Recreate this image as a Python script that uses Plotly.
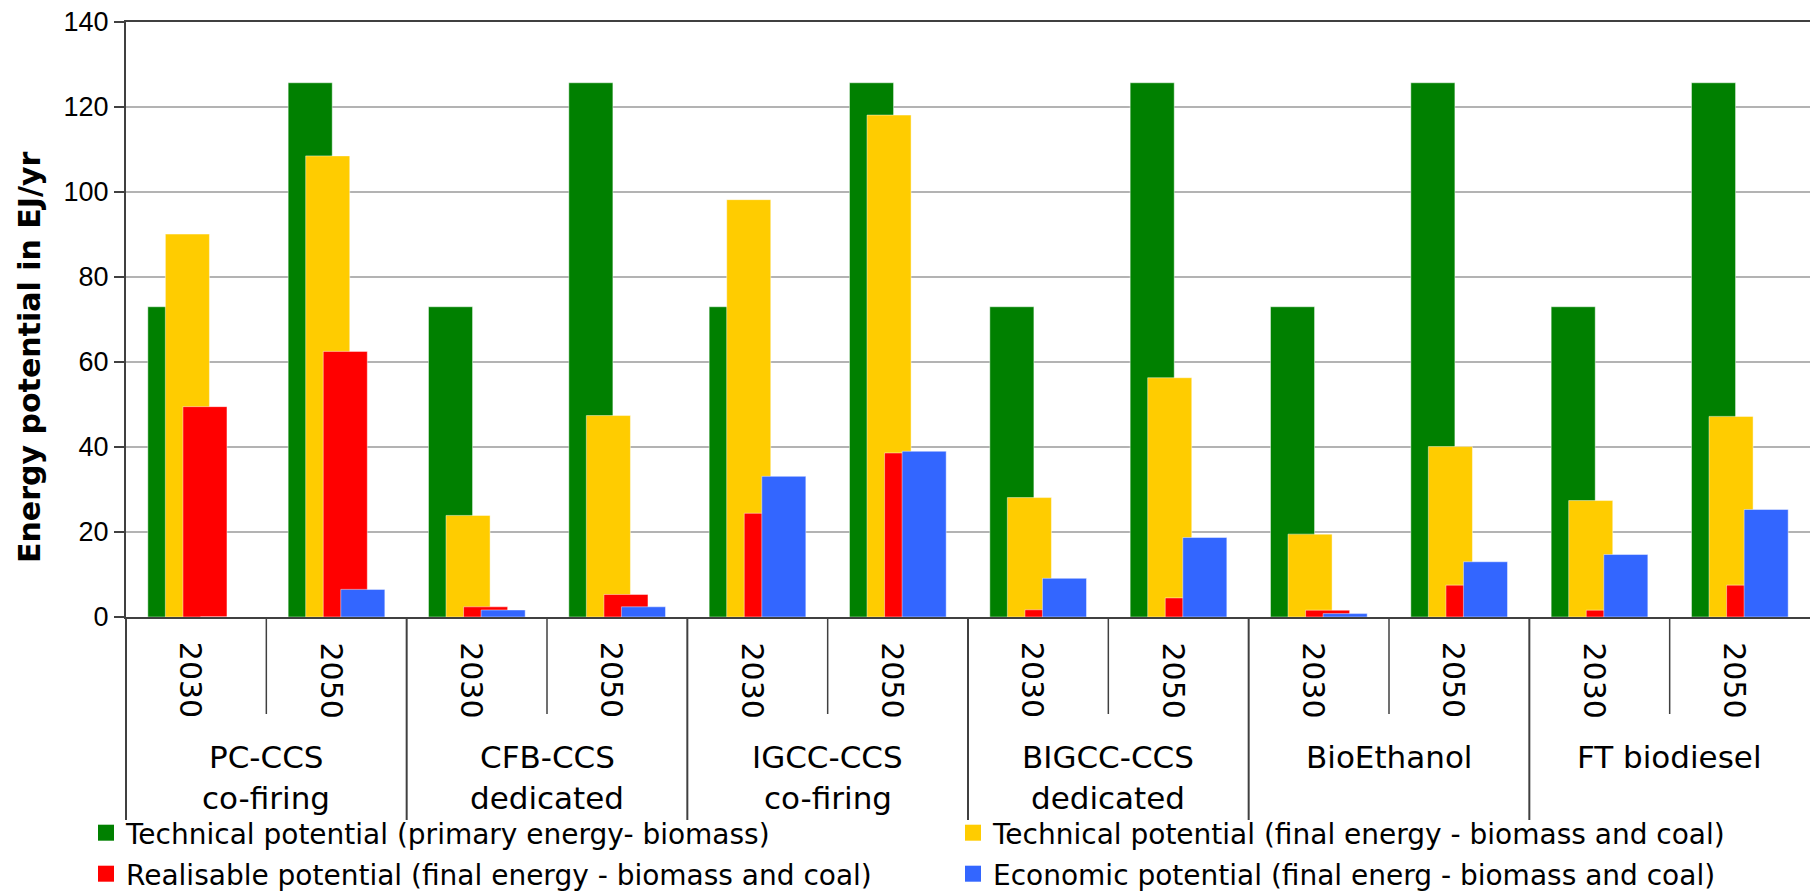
import numpy as np
import plotly.graph_objects as go

# ---------------- data ----------------
years = ["2030", "2050", "2030", "2050", "2030", "2050",
         "2030", "2050", "2030", "2050", "2030", "2050"]
group_line1 = ["PC-CCS", "CFB-CCS", "IGCC-CCS", "BIGCC-CCS", "BioEthanol", "FT biodiesel"]
group_line2 = ["co-firing", "dedicated", "co-firing", "dedicated", "", ""]

tech_primary = [73.0, 125.7, 73.0, 125.7, 73.0, 125.7,
                73.0, 125.7, 73.0, 125.7, 73.0, 125.7]
tech_final = [90.1, 108.5, 23.9, 47.4, 98.2, 118.1,
              28.1, 56.3, 19.5, 40.1, 27.4, 47.2]
realisable = [49.5, 62.5, 2.4, 5.3, 24.4, 38.6,
              1.7, 4.5, 1.6, 7.5, 1.6, 7.5]
economic = [0.0, 6.5, 1.65, 2.4, 33.1, 39.0,
            9.1, 18.7, 0.8, 13.0, 14.7, 25.3]

series_names = [
    "Technical potential (primary energy- biomass)",
    "Technical potential (final energy - biomass and coal)",
    "Realisable potential (final energy - biomass and coal)",
    "Economic potential (final energ - biomass and coal)",
]
series_values = [tech_primary, tech_final, realisable, economic]
series_colors = ["#008000", "#FFCC00", "#FF0000", "#3366FF"]

y_ticks = [0, 20, 40, 60, 80, 100, 120, 140]
y_title = "Energy potential in EJ/yr"

# ---------------- figure ----------------
W, H = 1810, 893
mt, mb, ml, mr = 22, 276, 126, 0
plot_h = H - mt - mb
plot_w = W - ml - mr


def py(pixel_y):
    """pixel row -> paper y"""
    return (H - mb - pixel_y) / plot_h


def px(pixel_x):
    return (pixel_x - ml) / plot_w


idx = np.arange(len(years))
bar_w = 0.314
step = 0.125
left = -(3 * step + bar_w) / 2

legend_ids = ["legend", "legend2", "legend3", "legend4"]
# legend placement (left x, row centre y) in pixels
legend_pos = [(86, 833), (953, 833), (86, 874), (953, 874)]

fig = go.Figure()
for i, (name, vals, col) in enumerate(zip(series_names, series_values, series_colors)):
    fig.add_trace(go.Bar(
        x=idx, y=vals, name=name,
        width=bar_w, offset=left + i * step,
        marker=dict(color=col, line=dict(color="rgba(255,255,255,0.45)", width=1)),
        showlegend=False,
    ))
# legend entries (square swatches)
for i, (name, col) in enumerate(zip(series_names, series_colors)):
    fig.add_trace(go.Scatter(
        x=[None], y=[None], name=name, mode="markers",
        marker=dict(symbol="square", size=16, color=col),
        legend=legend_ids[i], showlegend=True, hoverinfo="skip",
    ))

annotations = []
for k, yr in enumerate(years):
    annotations.append(dict(x=idx[k], xref="x", y=py(680), yref="paper", text=yr,
                            textangle=90, showarrow=False, xanchor="center", yanchor="middle",
                            xshift=-5,
                            font=dict(family="DejaVu Sans", size=30, color="black")))
for g, (l1, l2) in enumerate(zip(group_line1, group_line2)):
    xc = idx[2 * g] + 0.5
    annotations.append(dict(x=xc, xref="x", y=py(757), yref="paper", text=l1, showarrow=False,
                            xanchor="center", yanchor="middle",
                            font=dict(family="DejaVu Sans", size=31, color="black")))
    if l2:
        annotations.append(dict(x=xc, xref="x", y=py(798), yref="paper", text=l2, showarrow=False,
                                xanchor="center", yanchor="middle",
                                font=dict(family="DejaVu Sans", size=31, color="black")))
annotations.append(dict(x=px(29), xref="paper", y=py(358), yref="paper", text=y_title,
                        textangle=-90, showarrow=False, xanchor="center", yanchor="middle",
                        font=dict(family="DejaVu Sans", size=30, color="black", weight="bold")))

shapes = []
line_col = "#404040"
shapes.append(dict(type="line", xref="x domain", x0=0, x1=0, yref="paper", y0=0, y1=py(820),
                   line=dict(color=line_col, width=2)))
for b in range(1, len(years)):
    xb = idx[b] - 0.5
    long_line = (b % 2 == 0)
    shapes.append(dict(type="line", xref="x", x0=xb, x1=xb, yref="paper", y0=0,
                       y1=py(820) if long_line else py(714),
                       line=dict(color=line_col, width=2 if long_line else 1.5)))

legends = {}
for lid, (lx, ly) in zip(legend_ids, legend_pos):
    legends[lid] = dict(orientation="h", xref="container", yref="container",
                        x=lx / W, y=1 - ly / H, xanchor="left", yanchor="middle",
                        font=dict(family="DejaVu Sans", size=28, color="black"),
                        bgcolor="rgba(0,0,0,0)", itemsizing="trace")

fig.update_layout(
    width=W, height=H,
    margin=dict(l=ml, r=mr, t=mt, b=mb, pad=0),
    paper_bgcolor="white", plot_bgcolor="white",
    barmode="overlay",
    showlegend=True,
    xaxis=dict(range=[-0.5, len(years) - 0.5], showticklabels=False, ticks="",
               showgrid=False, zeroline=False, showline=True, linecolor=line_col,
               linewidth=2, mirror=True, fixedrange=True),
    yaxis=dict(range=[0, 140], tickvals=y_ticks, ticks="outside", ticklen=10,
               tickcolor=line_col, tickwidth=1.5,
               showgrid=True, gridcolor="#b3b3b3", gridwidth=2,
               zeroline=False, showline=True, linecolor=line_col, linewidth=2,
               tickfont=dict(family="Liberation Sans", size=27, color="black"),
               fixedrange=True),
    annotations=annotations,
    shapes=shapes,
    **legends,
)

fig.write_html("out.html", config={"displayModeBar": False},
               post_script="document.body.style.margin='0px';")
